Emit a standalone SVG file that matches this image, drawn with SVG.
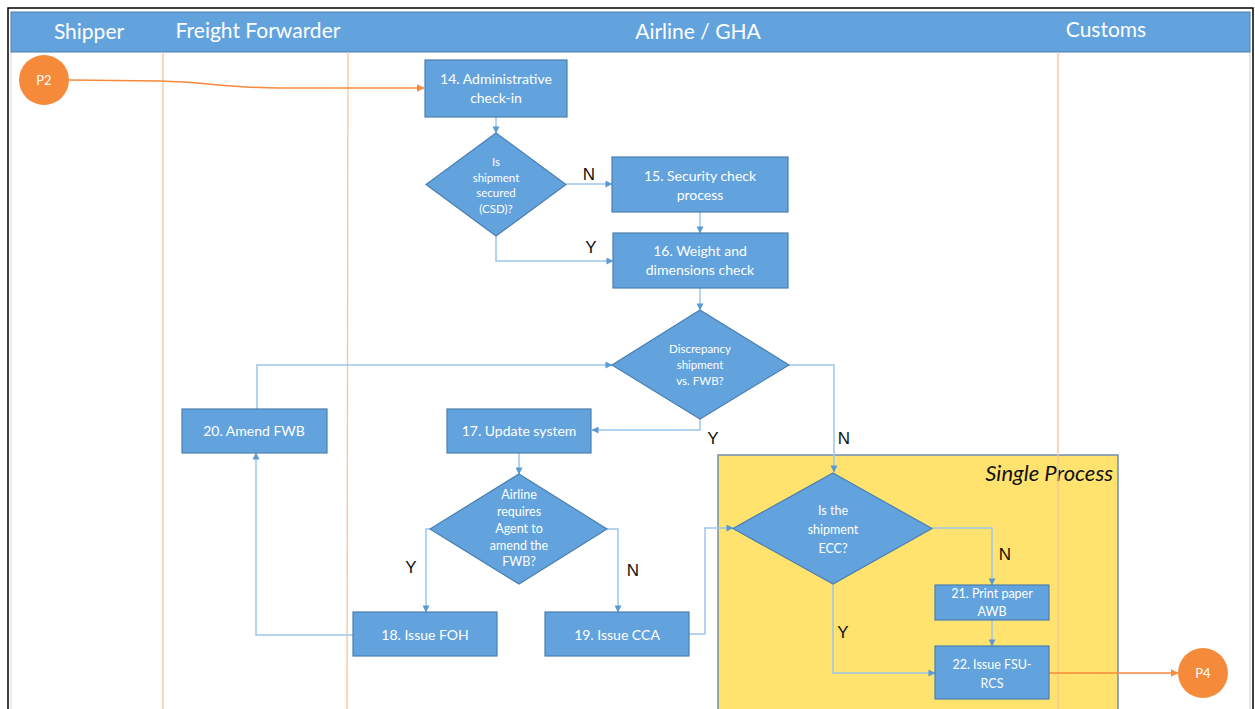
<svg xmlns="http://www.w3.org/2000/svg" width="1255" height="709" viewBox="0 0 1255 709">
  <defs>
    <marker id="arrB" viewBox="0 0 8 8" refX="7.5" refY="4" markerWidth="7" markerHeight="7" markerUnits="userSpaceOnUse" orient="auto">
      <path d="M0,0 L8,4 L0,8 z" fill="#5b9bd5"/>
    </marker>
    <marker id="arrO" viewBox="0 0 8 8" refX="7.5" refY="4" markerWidth="8" markerHeight="8" markerUnits="userSpaceOnUse" orient="auto">
      <path d="M0,0 L8,4 L0,8 z" fill="#f58a3a"/>
    </marker>
  </defs>
  <style>
    .hdr { font-family: Lato, "Open Sans", sans-serif; font-size: 21px; fill: #ffffff; text-anchor: middle; }
    .box { fill: #62a3de; stroke: #4a7fb0; stroke-width: 1.2; }
    .lbl { font-family: Lato, "Open Sans", sans-serif; font-size: 14px; fill: #ffffff; text-anchor: middle; }
    .sm { font-size: 11.5px; }
    .md { font-size: 12.5px; }
    .yn { font-family: "Liberation Sans", Arial, sans-serif; font-size: 17px; fill: #111111; text-anchor: middle; }
    .conn { fill: none; stroke: #9cc6ec; stroke-width: 1.5; marker-end: url(#arrB); }
    .lane { stroke: #f9c39a; stroke-width: 1.3; }
    .term { fill: #f58a3a; }
    .termtxt { font-family: Lato, "Open Sans", sans-serif; font-size: 13px; fill: #ffffff; text-anchor: middle; }
    .flow { fill: none; stroke: #f58a3a; stroke-width: 1.5; marker-end: url(#arrO); }
  </style>

  <rect x="0" y="0" width="1255" height="709" fill="#ffffff"/>
  <!-- page frame -->
  <path d="M8,709 V8 H1253 V709" fill="none" stroke="#000000" stroke-width="1.5"/>
  <line x1="1250" y1="52" x2="1250" y2="709" stroke="#d0d0d0" stroke-width="1"/>
  <line x1="11" y1="52" x2="11" y2="709" stroke="#d8d8d8" stroke-width="1"/>

  <!-- header band -->
  <g id="header">
    <rect x="11" y="12" width="1239" height="40" fill="#62a3de" stroke="#4a7fb0" stroke-width="1"/>
    <text class="hdr" x="89" y="39">Shipper</text>
    <text class="hdr" x="258" y="38">Freight Forwarder</text>
    <text class="hdr" x="698" y="39">Airline / GHA</text>
    <text class="hdr" x="1106" y="37">Customs</text>
  </g>

  <!-- single process region -->
  <g id="single-process">
    <rect x="718" y="455" width="400" height="260" fill="#ffe36e" stroke="#6d8fb3" stroke-width="1.5"/>
    <text x="1113" y="481" font-family="Lato, 'Open Sans', sans-serif" font-size="22" font-style="italic" fill="#111111" text-anchor="end">Single Process</text>
  </g>

  <!-- swimlane dividers -->
  <g id="lanes">
    <line class="lane" x1="163" y1="52" x2="163" y2="709"/>
    <line class="lane" x1="348" y1="52" x2="347" y2="709"/>
    <line class="lane" x1="1058" y1="52" x2="1058" y2="709"/>
  </g>

  <!-- connectors -->
  <g id="connectors">
    <path class="flow" d="M69,80 L160,81 C205,82 230,88 280,88 L424,88"/>
    <path class="conn" d="M496,117 V133"/>
    <path class="conn" d="M566,184 H612"/>
    <path class="conn" d="M700,212 V233"/>
    <path class="conn" d="M496,236 V261 H613"/>
    <path class="conn" d="M700,288 V310"/>
    <path class="conn" d="M700,419 V430 H592"/>
    <path class="conn" d="M789,365 H834 V472"/>
    <path class="conn" d="M257,409 V365 H612"/>
    <path class="conn" d="M519,453 V474"/>
    <path class="conn" d="M430,529 H426 V612"/>
    <path class="conn" d="M607,529 H618 V612"/>
    <path class="conn" d="M353,635 H256 V453"/>
    <path class="conn" d="M689,634 H705 V528 H733"/>
    <path class="conn" d="M932,528 H992 V585"/>
    <path class="conn" d="M992,620 V646"/>
    <path class="conn" d="M833,584 V673 H935"/>
    <path class="flow" d="M1049,673 H1178"/>
  </g>

  <!-- branch labels -->
  <g id="branch-labels">
    <text class="yn" x="589" y="180">N</text>
    <text class="yn" x="591" y="253">Y</text>
    <text class="yn" x="713" y="444">Y</text>
    <text class="yn" x="844" y="444">N</text>
    <text class="yn" x="411" y="573">Y</text>
    <text class="yn" x="633" y="576">N</text>
    <text class="yn" x="1005" y="560">N</text>
    <text class="yn" x="843" y="638">Y</text>
  </g>

  <g id="p2">
    <circle class="term" cx="44" cy="80" r="25"/>
    <text class="termtxt" x="44" y="85">P2</text>
  </g>

  <g id="n14">
    <rect class="box" x="425" y="60" width="142" height="57"/>
    <text class="lbl" x="496" y="84">14. Administrative</text>
    <text class="lbl" x="496" y="103">check-in</text>
  </g>

  <g id="d-secured">
    <polygon class="box" points="496,133 566,184.5 496,236 426,184.5"/>
    <text class="lbl sm" x="496" y="166">Is</text>
    <text class="lbl sm" x="496" y="182">shipment</text>
    <text class="lbl sm" x="496" y="197">secured</text>
    <text class="lbl sm" x="496" y="213">(CSD)?</text>
  </g>

  <g id="n15">
    <rect class="box" x="612" y="157" width="176" height="55"/>
    <text class="lbl" x="700" y="181">15. Security check</text>
    <text class="lbl" x="700" y="200">process</text>
  </g>

  <g id="n16">
    <rect class="box" x="613" y="233" width="175" height="55"/>
    <text class="lbl" x="700" y="256">16. Weight and</text>
    <text class="lbl" x="700" y="275">dimensions check</text>
  </g>

  <g id="d-discrepancy">
    <polygon class="box" points="700,310 789,365 700,419 612,365"/>
    <text class="lbl sm" x="700" y="353">Discrepancy</text>
    <text class="lbl sm" x="700" y="369">shipment</text>
    <text class="lbl sm" x="700" y="385">vs. FWB?</text>
  </g>

  <g id="n17">
    <rect class="box" x="447" y="409" width="144" height="44"/>
    <text class="lbl" x="519" y="436">17. Update system</text>
  </g>

  <g id="n20">
    <rect class="box" x="182" y="409" width="145" height="44"/>
    <text class="lbl" x="254" y="436">20. Amend FWB</text>
  </g>

  <g id="d-amend">
    <polygon class="box" points="519,474 607,529 519,584 430,529"/>
    <text class="lbl md" x="519" y="499">Airline</text>
    <text class="lbl md" x="519" y="516">requires</text>
    <text class="lbl md" x="519" y="533">Agent to</text>
    <text class="lbl md" x="519" y="550">amend the</text>
    <text class="lbl md" x="519" y="566">FWB?</text>
  </g>

  <g id="n18">
    <rect class="box" x="353" y="612" width="144" height="44"/>
    <text class="lbl" x="425" y="640">18. Issue FOH</text>
  </g>

  <g id="n19">
    <rect class="box" x="545" y="612" width="144" height="44"/>
    <text class="lbl" x="617" y="640">19. Issue CCA</text>
  </g>

  <g id="d-ecc">
    <polygon class="box" points="833,473 932,528.5 833,584 733,528.5"/>
    <text class="lbl md" x="833" y="515">Is the</text>
    <text class="lbl md" x="833" y="534">shipment</text>
    <text class="lbl md" x="833" y="553">ECC?</text>
  </g>

  <g id="n21">
    <rect class="box" x="935" y="585" width="114" height="35"/>
    <text class="lbl md" x="992" y="598">21. Print paper</text>
    <text class="lbl md" x="992" y="616">AWB</text>
  </g>

  <g id="n22">
    <rect class="box" x="935" y="646" width="114" height="53"/>
    <text class="lbl md" x="992" y="669">22. Issue FSU-</text>
    <text class="lbl md" x="992" y="688">RCS</text>
  </g>

  <g id="p4">
    <circle class="term" cx="1203" cy="673" r="25"/>
    <text class="termtxt" x="1203" y="678">P4</text>
  </g>
</svg>
